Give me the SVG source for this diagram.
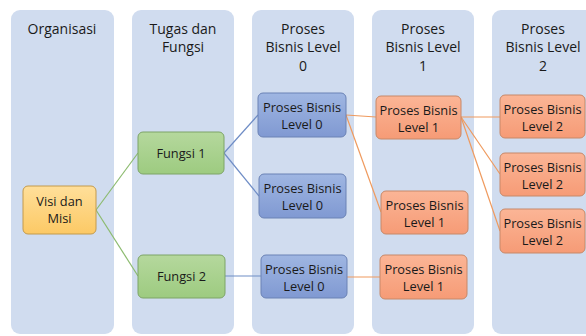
<svg xmlns="http://www.w3.org/2000/svg" width="586" height="336" viewBox="0 0 586 336">
<defs>
<linearGradient id="gY" x1="0" y1="0" x2="0" y2="1"><stop offset="0" stop-color="#ffdf9a"/><stop offset="1" stop-color="#fcc965"/></linearGradient>
<linearGradient id="gG" x1="0" y1="0" x2="0" y2="1"><stop offset="0" stop-color="#b5d89d"/><stop offset="1" stop-color="#9dcb80"/></linearGradient>
<linearGradient id="gB" x1="0" y1="0" x2="0" y2="1"><stop offset="0" stop-color="#9fb6e2"/><stop offset="1" stop-color="#8099d2"/></linearGradient>
<linearGradient id="gO" x1="0" y1="0" x2="0" y2="1"><stop offset="0" stop-color="#fbb596"/><stop offset="1" stop-color="#f69b76"/></linearGradient>
<style>
.col{fill:#d0dcef}
.hd{font-family:"Open Sans","Liberation Sans",sans-serif;font-size:14px;fill:#1a1a1a;text-anchor:middle}
.tx{font-family:"Open Sans","Liberation Sans",sans-serif;font-size:12.8px;fill:#1a1a1a;text-anchor:middle}
.y{fill:url(#gY);stroke:#c39a4c;stroke-width:1}
.g{fill:url(#gG);stroke:#7da467;stroke-width:1}
.b{fill:url(#gB);stroke:#6a82b5;stroke-width:1}
.o{fill:url(#gO);stroke:#c78868;stroke-width:1}
.lg{stroke:#8cbb6f;stroke-width:1.2;fill:none}
.lb{stroke:#6f8dc6;stroke-width:1.2;fill:none}
.lo{stroke:#ef9a5e;stroke-width:1.2;fill:none}
</style>
</defs>
<rect width="586" height="336" fill="#ffffff"/>
<g id="columns">
<rect class="col" x="11" y="10" width="103" height="324" rx="9"/>
<rect class="col" x="132" y="10" width="102" height="324" rx="9"/>
<rect class="col" x="252" y="10" width="102" height="324" rx="9"/>
<rect class="col" x="372" y="10" width="102" height="324" rx="9"/>
<rect class="col" x="492" y="10" width="102" height="324" rx="9"/>
<text class="hd" x="62" y="34">Organisasi</text>
<text class="hd" x="183" y="34">Tugas dan</text>
<text class="hd" x="183" y="52">Fungsi</text>
<text class="hd" x="303" y="34">Proses</text>
<text class="hd" x="303" y="52">Bisnis Level</text>
<text class="hd" x="303" y="71">0</text>
<text class="hd" x="423" y="34">Proses</text>
<text class="hd" x="423" y="52">Bisnis Level</text>
<text class="hd" x="423" y="71">1</text>
<text class="hd" x="543" y="34">Proses</text>
<text class="hd" x="543" y="52">Bisnis Level</text>
<text class="hd" x="543" y="71">2</text>
</g>
<g id="connectors">
<line class="lg" x1="96" y1="210" x2="138" y2="153"/>
<line class="lg" x1="96" y1="210" x2="138" y2="276"/>
<line class="lb" x1="224" y1="153" x2="258" y2="115"/>
<line class="lb" x1="224" y1="153" x2="259" y2="196"/>
<line class="lb" x1="225" y1="276" x2="261" y2="276"/>
<line class="lo" x1="346" y1="115" x2="376" y2="117"/>
<line class="lo" x1="346" y1="115" x2="381" y2="212"/>
<line class="lo" x1="347" y1="277" x2="380" y2="277"/>
<line class="lo" x1="461" y1="117" x2="500" y2="117"/>
<line class="lo" x1="461" y1="117" x2="500" y2="174"/>
<line class="lo" x1="461" y1="117" x2="500" y2="231"/>
</g>
<g id="visi"><rect class="y" x="23" y="186" width="73" height="48" rx="5"/><text class="tx" x="59.5" y="206">Visi dan</text><text class="tx" x="59.5" y="223">Misi</text></g>
<g id="fungsi1"><rect class="g" x="138" y="132" width="86" height="42" rx="5"/><text class="tx" x="181" y="158">Fungsi 1</text></g>
<g id="fungsi2"><rect class="g" x="138" y="255" width="87" height="43" rx="5"/><text class="tx" x="181.5" y="281">Fungsi 2</text></g>
<g id="pb0a"><rect class="b" x="258" y="93" width="88" height="44" rx="5"/><text class="tx" x="302" y="112">Proses Bisnis</text><text class="tx" x="302" y="129">Level 0</text></g>
<g id="pb0b"><rect class="b" x="259" y="174" width="87" height="44" rx="5"/><text class="tx" x="302.5" y="193">Proses Bisnis</text><text class="tx" x="302.5" y="210">Level 0</text></g>
<g id="pb0c"><rect class="b" x="261" y="255" width="86" height="43" rx="5"/><text class="tx" x="304" y="274">Proses Bisnis</text><text class="tx" x="304" y="291">Level 0</text></g>
<g id="pb1a"><rect class="o" x="376" y="96" width="85" height="43" rx="5"/><text class="tx" x="418.5" y="115">Proses Bisnis</text><text class="tx" x="418.5" y="132">Level 1</text></g>
<g id="pb1b"><rect class="o" x="381" y="191" width="87" height="43" rx="5"/><text class="tx" x="424.5" y="210">Proses Bisnis</text><text class="tx" x="424.5" y="227">Level 1</text></g>
<g id="pb1c"><rect class="o" x="380" y="255" width="87" height="44" rx="5"/><text class="tx" x="423.5" y="274">Proses Bisnis</text><text class="tx" x="423.5" y="291">Level 1</text></g>
<g id="pb2a"><rect class="o" x="500" y="95" width="85" height="43" rx="5"/><text class="tx" x="542.5" y="114">Proses Bisnis</text><text class="tx" x="542.5" y="131">Level 2</text></g>
<g id="pb2b"><rect class="o" x="500" y="153" width="85" height="43" rx="5"/><text class="tx" x="542.5" y="172">Proses Bisnis</text><text class="tx" x="542.5" y="189">Level 2</text></g>
<g id="pb2c"><rect class="o" x="500" y="209" width="85" height="44" rx="5"/><text class="tx" x="542.5" y="228">Proses Bisnis</text><text class="tx" x="542.5" y="245">Level 2</text></g>
</svg>
